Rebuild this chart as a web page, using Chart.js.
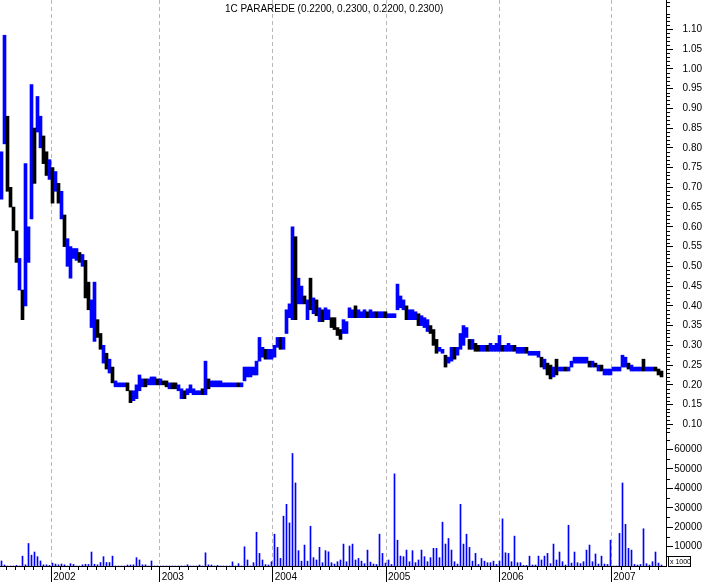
<!DOCTYPE html>
<html>
<head>
<meta charset="utf-8">
<script src="https://cdn.jsdelivr.net/npm/chart.js@4.4.0/dist/chart.umd.min.js"></script>
<style>
  html, body { margin: 0; padding: 0; background: #fff; }
  #wrap { position: relative; width: 707px; height: 582px; }
</style>
</head>
<body>
<div id="wrap"><canvas id="stockChart" width="707" height="582"></canvas></div>
<script>
// 1C PARAREDE, roughly one bar per two trading weeks, mid 2001 to mid 2007
const titleText = "1C PARAREDE (0.2200, 0.2300, 0.2200, 0.2300)";

// bar index at which each calendar year begins
const yearLabels = [2002, 2003, 2004, 2005, 2006, 2007];
const yearStarts = [16.6, 52.73, 90.4, 128.17, 165.93, 203.27];

const priceTicks = [0.10, 0.15, 0.20, 0.25, 0.30, 0.35, 0.40, 0.45, 0.50, 0.55, 0.60,
                    0.65, 0.70, 0.75, 0.80, 0.85, 0.90, 0.95, 1.00, 1.05, 1.10];
const volumeTicks = [10000, 20000, 30000, 40000, 50000, 60000];

const highs = [
   0.79, 1.085, 0.88, 0.70, 0.65, 0.59, 0.52, 0.44, 0.76, 0.60,
   0.96, 0.85, 0.93, 0.88, 0.83, 0.79, 0.77, 0.75, 0.74, 0.71,
   0.69, 0.63, 0.57, 0.55, 0.545, 0.545, 0.535, 0.53, 0.515, 0.46,
   0.415, 0.46, 0.365, 0.33, 0.30, 0.28, 0.265, 0.245, 0.21, 0.205,
   0.205, 0.205, 0.205, 0.185, 0.185, 0.20, 0.225, 0.215, 0.215, 0.215,
   0.22, 0.22, 0.215, 0.215, 0.21, 0.21, 0.205, 0.205, 0.205, 0.20,
   0.19, 0.185, 0.19, 0.20, 0.19, 0.185, 0.185, 0.19, 0.26, 0.215,
   0.21, 0.21, 0.21, 0.21, 0.205, 0.205, 0.205, 0.205, 0.205, 0.205,
   0.205, 0.245, 0.245, 0.245, 0.245, 0.26, 0.32, 0.295, 0.29, 0.29,
   0.29, 0.30, 0.32, 0.32, 0.32, 0.39, 0.405, 0.60, 0.575, 0.47,
   0.45, 0.425, 0.415, 0.47, 0.42, 0.415, 0.395, 0.39, 0.395, 0.39,
   0.37, 0.37, 0.345, 0.34, 0.365, 0.36, 0.395, 0.39, 0.40, 0.39,
   0.385, 0.39, 0.385, 0.39, 0.385, 0.385, 0.385, 0.385, 0.385, 0.38,
   0.38, 0.38, 0.455, 0.425, 0.415, 0.40, 0.39, 0.39, 0.385, 0.38,
   0.375, 0.37, 0.365, 0.35, 0.34, 0.315, 0.295, 0.29, 0.275, 0.27,
   0.295, 0.295, 0.295, 0.33, 0.35, 0.345, 0.315, 0.315, 0.305, 0.30,
   0.30, 0.30, 0.30, 0.305, 0.30, 0.305, 0.325, 0.30, 0.30, 0.305,
   0.30, 0.30, 0.295, 0.295, 0.295, 0.295, 0.285, 0.285, 0.285, 0.285,
   0.27, 0.265, 0.255, 0.25, 0.245, 0.265, 0.245, 0.245, 0.245, 0.245,
   0.26, 0.27, 0.27, 0.27, 0.27, 0.27, 0.26, 0.26, 0.255, 0.25,
   0.25, 0.24, 0.24, 0.24, 0.245, 0.245, 0.245, 0.275, 0.27, 0.255,
   0.25, 0.245, 0.245, 0.245, 0.265, 0.245, 0.245, 0.245, 0.245, 0.24,
   0.235
];

const lows = [
   0.67, 0.81, 0.69, 0.65, 0.59, 0.51, 0.44, 0.365, 0.40, 0.51,
   0.62, 0.71, 0.84, 0.80, 0.76, 0.73, 0.72, 0.66, 0.69, 0.66,
   0.62, 0.55, 0.50, 0.47, 0.52, 0.515, 0.51, 0.50, 0.42, 0.39,
   0.345, 0.31, 0.32, 0.29, 0.255, 0.24, 0.23, 0.205, 0.195, 0.195,
   0.195, 0.195, 0.185, 0.155, 0.16, 0.165, 0.185, 0.195, 0.195, 0.20,
   0.20, 0.20, 0.20, 0.20, 0.20, 0.195, 0.19, 0.19, 0.19, 0.185,
   0.165, 0.165, 0.175, 0.18, 0.175, 0.175, 0.175, 0.175, 0.175, 0.19,
   0.195, 0.195, 0.195, 0.195, 0.195, 0.195, 0.195, 0.195, 0.195, 0.195,
   0.195, 0.21, 0.22, 0.22, 0.225, 0.225, 0.26, 0.27, 0.265, 0.265,
   0.265, 0.27, 0.295, 0.29, 0.29, 0.33, 0.37, 0.365, 0.365, 0.405,
   0.405, 0.405, 0.365, 0.39, 0.38, 0.375, 0.36, 0.36, 0.365, 0.365,
   0.345, 0.34, 0.325, 0.315, 0.33, 0.33, 0.37, 0.37, 0.37, 0.37,
   0.37, 0.37, 0.37, 0.37, 0.37, 0.37, 0.37, 0.37, 0.37, 0.37,
   0.37, 0.37, 0.39, 0.395, 0.39, 0.365, 0.365, 0.365, 0.365, 0.35,
   0.35, 0.345, 0.335, 0.33, 0.30, 0.28, 0.285, 0.28, 0.245, 0.255,
   0.26, 0.265, 0.275, 0.29, 0.30, 0.32, 0.29, 0.29, 0.285, 0.285,
   0.285, 0.285, 0.285, 0.285, 0.285, 0.285, 0.285, 0.285, 0.285, 0.285,
   0.285, 0.285, 0.28, 0.28, 0.28, 0.28, 0.275, 0.275, 0.275, 0.27,
   0.245, 0.24, 0.225, 0.215, 0.22, 0.225, 0.235, 0.235, 0.235, 0.235,
   0.245, 0.255, 0.255, 0.255, 0.255, 0.255, 0.245, 0.245, 0.245, 0.235,
   0.235, 0.225, 0.225, 0.225, 0.235, 0.235, 0.235, 0.245, 0.245, 0.24,
   0.235, 0.235, 0.235, 0.235, 0.235, 0.235, 0.235, 0.235, 0.235, 0.225,
   0.22
];

// 1 = closed up (blue), 0 = closed down (black)
const upBars = [
   1, 1, 0, 0, 0, 0, 1, 0, 1, 1,
   1, 0, 1, 1, 0, 0, 1, 0, 1, 0,
   1, 0, 1, 1, 1, 1, 0, 1, 0, 0,
   1, 1, 0, 0, 1, 0, 1, 0, 1, 1,
   1, 1, 0, 0, 1, 1, 1, 1, 0, 1,
   1, 1, 0, 1, 0, 0, 1, 0, 0, 1,
   1, 0, 1, 1, 1, 1, 1, 0, 1, 0,
   1, 1, 1, 1, 1, 1, 1, 1, 1, 0,
   1, 1, 1, 1, 1, 1, 1, 1, 0, 1,
   1, 1, 1, 0, 1, 1, 1, 1, 0, 1,
   1, 0, 1, 0, 1, 0, 1, 0, 1, 1,
   0, 0, 0, 0, 1, 1, 1, 1, 0, 1,
   1, 1, 0, 1, 1, 0, 1, 1, 0, 1,
   1, 1, 1, 1, 1, 0, 1, 1, 1, 0,
   1, 1, 1, 0, 0, 0, 1, 1, 0, 1,
   1, 0, 1, 1, 1, 1, 0, 1, 0, 0,
   1, 1, 0, 1, 1, 1, 1, 0, 1, 1,
   1, 0, 1, 1, 1, 0, 1, 1, 1, 1,
   0, 1, 0, 0, 1, 0, 1, 1, 0, 1,
   1, 1, 1, 1, 1, 1, 0, 1, 0, 1,
   0, 1, 1, 1, 1, 1, 1, 1, 1, 0,
   1, 1, 1, 1, 0, 1, 1, 1, 0, 0,
   0
];

// volume in thousands of shares
const volumes = [
   2600, 500, 0, 0, 0, 300, 0, 5100, 600, 11600,
   5600, 7200, 4800, 2600, 600, 600, 300, 1500, 1000, 600,
   1000, 600, 0, 1200, 800, 0, 0, 600, 900, 800,
   7200, 900, 600, 1800, 4800, 1800, 1800, 5100, 0, 0,
   0, 0, 500, 500, 600, 4300, 3100, 600, 600, 0,
   2600, 0, 0, 0, 0, 0, 0, 0, 0, 0,
   0, 0, 600, 0, 0, 0, 500, 0, 6800, 600,
   500, 0, 300, 0, 0, 0, 0, 2100, 0, 1200,
   0, 9900, 3100, 0, 1700, 17400, 6500, 3100, 700, 500,
   2200, 16400, 9600, 3900, 25700, 31800, 22200, 58000, 42800, 7900,
   2500, 10800, 2500, 20500, 4300, 3100, 9600, 1700, 7900, 7300,
   1700, 1000, 2200, 3100, 11300, 2200, 10300, 11300, 3100, 3900,
   2500, 1200, 8200, 2000, 1000, 800, 16400, 6500, 1500, 3100,
   800, 47500, 13300, 5100, 4800, 8200, 2200, 7900, 1700, 3100,
   8200, 4800, 2200, 4300, 9100, 9100, 4300, 22600, 11300, 14200,
   8200, 2200, 1000, 31800, 11300, 16400, 9600, 2500, 6500, 800,
   3900, 2500, 1700, 1700, 2500, 800, 2500, 24300, 6800, 6500,
   2200, 15400, 1700, 1700, 300, 300, 5100, 500, 500, 5100,
   3100, 5100, 6500, 1200, 11300, 3100, 7200, 2200, 500, 21000,
   1500, 7200, 1700, 1200, 2200, 8200, 10800, 2200, 6200, 1000,
   5100, 1000, 800, 13300, 0, 0, 16800, 42800, 21500, 9100,
   8200, 800, 500, 800, 19200, 1200, 500, 2200, 7200, 1500,
   500
];

const upColor = "#0000ff";
const downColor = "#000000";

Chart.defaults.font.family = "'Liberation Sans', Arial, sans-serif";
Chart.defaults.font.size = 10;
Chart.defaults.color = "#000";

// axes with fixed sizes and no extra label padding
function fixWidth(s)
{
   s.width = 36;
   s.paddingTop = 0;
   s.paddingBottom = 0;
}

function fixHeight(s)
{
   s.height = 16;
   s.paddingLeft = 0;
   s.paddingRight = 0;
}

// title inside the plot, minor ticks and the "x 1000" box
const decorations = {
   id: "decorations",
   afterDraw(chart)
   {
      const ctx = chart.ctx;
      const area = chart.chartArea;
      const xs = chart.scales.x;
      const yp = chart.scales.y;
      const yv = chart.scales.yVol;

      ctx.save();
      ctx.strokeStyle = "#000";
      ctx.lineWidth = 1;
      ctx.beginPath();

      // monthly ticks under the time axis
      const firstLen = yearStarts[1] - yearStarts[0];
      for (let m = 1; m < 12; m++)
      {
         const px = xs.getPixelForValue(yearStarts[0] - firstLen * m / 12);
         if (px < area.left) break;
         ctx.moveTo(Math.round(px) + 0.5, area.bottom);
         ctx.lineTo(Math.round(px) + 0.5, area.bottom + 4);
      }
      yearStarts.forEach(function(start, k)
      {
         const next = k + 1 < yearStarts.length ? yearStarts[k + 1] : start + (start - yearStarts[k - 1]);
         for (let m = 1; m < 12; m++)
         {
            const px = xs.getPixelForValue(start + (next - start) * m / 12);
            if (px > area.right) break;
            ctx.moveTo(Math.round(px) + 0.5, area.bottom);
            ctx.lineTo(Math.round(px) + 0.5, area.bottom + 4);
         }
      });

      // price minor ticks every 0.01
      for (let c = 8; c <= 117; c++)
      {
         if (c % 5 === 0) continue;
         const py = Math.round(yp.getPixelForValue(c / 100)) + 0.5;
         ctx.moveTo(area.right, py);
         ctx.lineTo(area.right + 4, py);
      }

      // volume minor ticks every 5000
      for (let v = 5000; v <= 65000; v += 10000)
      {
         const py = Math.round(yv.getPixelForValue(v)) + 0.5;
         ctx.moveTo(area.right, py);
         ctx.lineTo(area.right + 4, py);
      }
      ctx.stroke();

      ctx.fillStyle = "#000";
      ctx.font = "10px 'Liberation Sans', Arial, sans-serif";
      ctx.textBaseline = "middle";
      ctx.textAlign = "left";
      ctx.fillText(titleText, 225, 9);

      ctx.strokeRect(area.right + 2.5, area.bottom - 9.5, 22, 10);
      ctx.font = "7px 'Liberation Sans', Arial, sans-serif";
      ctx.fillText("x 1000", area.right + 4, area.bottom - 4);
      ctx.restore();
   }
};

new Chart(document.getElementById("stockChart"),
{
   type: "bar",
   data:
   {
      datasets: [
         {
            label: "Price",
            data: highs.map((h, i) => ({ x: i, y: [lows[i], h] })),
            backgroundColor: upBars.map(u => u ? upColor : downColor),
            borderWidth: 0,
            grouped: false,
            barThickness: 3,
            xAxisID: "x",
            yAxisID: "y",
         },
         {
            label: "Volume",
            data: volumes.map((v, i) => ({ x: i, y: v })),
            backgroundColor: upColor,
            borderWidth: 0,
            grouped: false,
            barThickness: 1,
            maxBarThickness: 1,
            xAxisID: "x",
            yAxisID: "yVol",
         },
      ],
   },
   options:
   {
      responsive: false,
      animation: false,
      devicePixelRatio: 1,
      layout: { padding: { left: 0, right: 5, top: 0, bottom: 0 }, autoPadding: false },
      plugins:
      {
         legend: { display: false },
         tooltip: { enabled: false },
      },
      scales:
      {
         x:
         {
            type: "linear",
            position: "bottom",
            offset: false,
            bounds: "data",
            min: -0.5,
            max: 221.5,
            afterBuildTicks: s => { s.ticks = yearStarts.map(v => ({ value: v })); },
            afterFit: fixHeight,
            ticks:
            {
               autoSkip: false,
               maxRotation: 0,
               align: "start",
               padding: -11,
               labelOffset: 2,
               callback: (v, i) => String(yearLabels[i]),
            },
            grid:
            {
               offset: false,
               color: "#b8b8b8",
               lineWidth: 1,
               tickLength: 16,
               tickColor: "#000",
               tickWidth: 1,
               tickBorderDash: [],
            },
            border: { display: true, color: "#000", dash: [4, 3] },
         },
         y:
         {
            type: "linear",
            position: "right",
            stack: "panes",
            stackWeight: 436,
            min: 0.0705,
            max: 1.1742,
            afterBuildTicks: s => { s.ticks = priceTicks.map(v => ({ value: v })); },
            afterFit: fixWidth,
            ticks:
            {
               autoSkip: false,
               padding: 4,
               crossAlign: "far",
               callback: v => v.toFixed(2),
            },
            grid: { drawOnChartArea: false, tickLength: 7, tickColor: "#000" },
            border: { display: true, color: "#000" },
         },
         yVol:
         {
            type: "linear",
            position: "right",
            stack: "panes",
            stackWeight: 130,
            min: 0,
            max: 67000,
            afterBuildTicks: s => { s.ticks = volumeTicks.map(v => ({ value: v })); },
            afterFit: fixWidth,
            ticks:
            {
               autoSkip: false,
               padding: 4,
               crossAlign: "far",
               callback: v => String(v),
            },
            grid: { drawOnChartArea: false, tickLength: 7, tickColor: "#000" },
            border: { display: true, color: "#000" },
         },
      },
   },
   plugins: [decorations],
});
</script>
</body>
</html>
